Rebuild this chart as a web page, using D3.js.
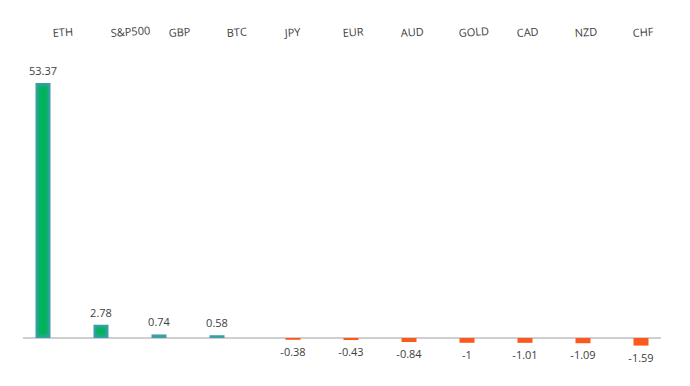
<!DOCTYPE html>
<meta charset="utf-8">
<html>
<head>
<style>
  body { margin: 0; background: #fff; }
  text { font-family: "Open Sans", "Noto Sans", sans-serif; fill: #404040; }
</style>
</head>
<body>
<svg id="chart" width="690" height="386"></svg>
<script src="https://cdnjs.cloudflare.com/ajax/libs/d3/7.8.5/d3.min.js"></script>
<script>
// data
const categories = ["ETH", "S&P500", "GBP", "BTC", "JPY", "EUR", "AUD", "GOLD", "CAD", "NZD", "CHF"];
const values = [53.37, 2.78, 0.74, 0.58, -0.38, -0.43, -0.84, -1, -1.01, -1.09, -1.59];
const seriesNames = ["up", "down"];

const width = 690, height = 386;
const svg = d3.select("#chart");

// gradient-ish look of the green bars
const defs = svg.append("defs");
defs.append("filter").attr("id", "soft")
    .append("feGaussianBlur").attr("stdDeviation", 1.6);

const x = d3.scaleBand()
    .domain(categories)
    .range([23, 661]);

// two series slots per category, like a clustered bar chart
const step = x.bandwidth();
const sub = d3.scaleBand()
    .domain(seriesNames)
    .range([0, step])
    .paddingInner(1 / 6)
    .paddingOuter((step / 18 - 2 + 1 / 6) / 2);

const y = d3.scaleLinear()
    .domain([0, d3.max(values)])
    .range([338, 83]);

const rows = categories.map((c, i) => ({
  cat: c,
  value: values[i],
  series: values[i] >= 0 ? "up" : "down"
}));

const bx = d => x(d.cat) + sub(d.series);
const by = d => Math.min(y(d.value), y(0));
const bh = d => Math.abs(y(d.value) - y(0));

// axis line
svg.append("line")
    .attr("x1", x.range()[0]).attr("x2", x.range()[1])
    .attr("y1", y(0)).attr("y2", y(0))
    .attr("stroke", "#bfbfbf").attr("stroke-width", 1.3);

const bars = svg.append("g");
const up = rows.filter(d => d.series === "up");
const down = rows.filter(d => d.series === "down");

bars.selectAll("rect.edge")
  .data(up)
  .join("rect")
    .attr("class", "edge")
    .attr("x", bx).attr("y", by)
    .attr("width", sub.bandwidth()).attr("height", bh)
    .attr("fill", "#3a9fa8");

bars.selectAll("rect.core")
  .data(up.filter(d => bh(d) > 6))
  .join("rect")
    .attr("class", "core")
    .attr("x", d => bx(d) + 2.5).attr("y", d => by(d) + 2.5)
    .attr("width", sub.bandwidth() - 5).attr("height", d => bh(d) - 5)
    .attr("fill", "#00b25a")
    .attr("filter", "url(#soft)");

bars.selectAll("rect.neg")
  .data(down)
  .join("rect")
    .attr("class", "neg")
    .attr("x", bx).attr("y", by)
    .attr("width", sub.bandwidth()).attr("height", d => Math.max(bh(d), 1.5))
    .attr("fill", "#fc5a1c");

// value labels
svg.append("g").selectAll("text")
  .data(rows)
  .join("text")
    .attr("x", d => bx(d) + sub.bandwidth() / 2)
    .attr("y", d => d.value >= 0 ? y(d.value) - 8 : y(d.value) + 16)
    .attr("text-anchor", "middle")
    .attr("font-size", 11)
    .text(d => d.value);

// category labels along the top
svg.append("g").selectAll("text")
  .data(categories)
  .join("text")
    .attr("transform", d => `translate(${x(d) + step / 2 + 1},37) rotate(-4)`)
    .attr("font-size", 11)
    .attr("fill", "#262626")
    .text(d => d);
</script>
</body>
</html>
